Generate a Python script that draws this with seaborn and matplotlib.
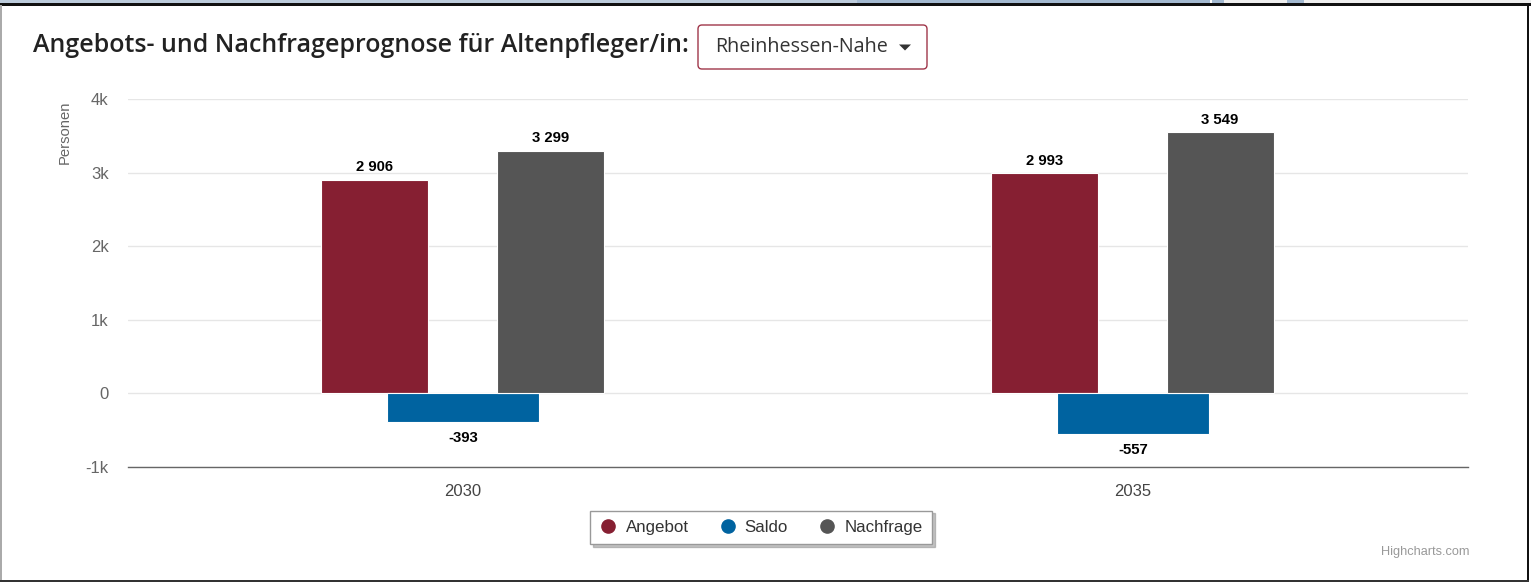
import numpy as np
import pandas as pd
import matplotlib
matplotlib.use("Agg")
import matplotlib.pyplot as plt
import seaborn as sns
from matplotlib.patches import FancyBboxPatch, Rectangle, Polygon
from matplotlib.lines import Line2D
from matplotlib.ticker import FuncFormatter

# ---- data ----
years = ["2030", "2035"]
series = ["Angebot", "Saldo", "Nachfrage"]
angebot = [2906, 2993]
saldo = [-393, -557]
nachfrage = [3299, 3549]
colors = ["#861f32", "#0063a0", "#555555"]
y_ticks = [-1000, 0, 1000, 2000, 3000, 4000]
title = "Angebots- und Nachfrageprognose für Altenpfleger/in:"
region = "Rheinhessen-Nahe"
y_title = "Personen"

df = pd.DataFrame({
    "Jahr": years * 3,
    "Serie": np.repeat(series, len(years)),
    "Wert": angebot + saldo + nachfrage,
})

sns.set_theme(style="white")
plt.rcParams["font.family"] = ["Liberation Sans", "DejaVu Sans"]

W, H = 1531, 582
fig = plt.figure(figsize=(W / 100, H / 100), dpi=100)
fig.patch.set_facecolor("white")

# background / decoration axes in pixel coordinates
bg = fig.add_axes([0, 0, 1, 1], zorder=0)
bg.set_xlim(0, W)
bg.set_ylim(H, 0)
bg.axis("off")

# top strip (page behind)
for x0, x1, c in [(0, 857, "#bccbdb"), (857, 1210, "#a3b9d0"), (1210, 1212, "#ffffff"),
                  (1212, 1224, "#a3b9d0"), (1224, 1287, "#eeeeee"), (1287, 1304, "#a3b9d0"),
                  (1304, W, "#eeeeee")]:
    bg.add_patch(Rectangle((x0, 0), x1 - x0, 3.2, fc=c, ec="none"))
bg.add_patch(Rectangle((0, 3), W, 2.5, fc="#111111", ec="none"))
bg.add_patch(Rectangle((1526.5, 3), 2.5, 579, fc="#111111", ec="none"))
bg.add_patch(Rectangle((0, 579.5), 1529, 2.5, fc="#333333", ec="none"))
bg.add_patch(Rectangle((0, 5), 1.5, 575, fc="#aaaaaa", ec="none"))

# title and dropdown
bg.text(33, 46, title, fontsize=18, family=["Open Sans", "DejaVu Sans"], fontweight="semibold",
        color="#222222", ha="left", va="center")
bg.add_patch(FancyBboxPatch((698, 25), 229, 44, boxstyle="round,pad=0,rounding_size=4",
                            fc="white", ec="#a0364a", lw=1))
bg.text(715, 47, region, fontsize=14.2, family=["Open Sans", "DejaVu Sans"], color="#333333",
        ha="left", va="center")
bg.add_patch(Polygon([(899, 44.5), (911, 44.5), (905, 50.5)], closed=True, fc="#333333", ec="none"))

# y title and credits
bg.text(65, 100, y_title, rotation=90, ha="center", va="top", fontsize=10.7, color="#666666")
bg.text(1469, 552, "Highcharts.com", ha="right", va="center", fontsize=9.2, color="#999999")

# main chart
ax = fig.add_axes([128 / W, 1 - 467 / H, 1340 / W, 368 / H], zorder=1)
ax.set_facecolor("none")
sns.barplot(data=df, x="Jahr", y="Wert", hue="Serie", hue_order=series, order=years,
            palette=colors, width=0.8, dodge=True, saturation=1, errorbar=None,
            legend=False, edgecolor="white", linewidth=0.8, ax=ax)

offsets = {"Angebot": -0.132, "Saldo": 0.0, "Nachfrage": 0.13}
widths = {"Angebot": 0.16, "Saldo": 0.226, "Nachfrage": 0.16}
for name, cont in zip(series, ax.containers):
    for bar in cont:
        c = round(bar.get_x() + bar.get_width() / 2)
        w = widths[name]
        bar.set_x(c + offsets[name] - w / 2)
        bar.set_width(w)
    labels = [f"{int(round(v)):,}".replace(",", " ") for v in cont.datavalues]
    pad = 6 if min(cont.datavalues) < 0 else 4
    ax.bar_label(cont, labels=labels, padding=pad, fontsize=10.7, fontweight="bold", color="black")

ax.set_xlim(-0.5, 1.5)
ax.set_ylim(-1000, 4000)
ax.set_yticks(y_ticks)
ax.yaxis.set_major_formatter(FuncFormatter(lambda v, p: "0" if v == 0 else f"{v / 1000:g}k"))
ax.yaxis.grid(True, color="#e6e6e6", lw=1)
ax.set_axisbelow(True)
for s in ["top", "left", "right"]:
    ax.spines[s].set_visible(False)
ax.spines["bottom"].set_color("#666666")
ax.spines["bottom"].set_linewidth(1)
ax.tick_params(axis="y", length=0, pad=14, labelsize=12, labelcolor="#666666")
ax.tick_params(axis="x", length=0, pad=12, labelsize=12, labelcolor="#444444")
ax.set_xlabel("")
ax.set_ylabel("")

# legend
handles = [Line2D([], [], marker="o", ls="", markersize=9.5, markerfacecolor=c, markeredgecolor=c)
           for c in colors]
fig.legend(handles, series, loc="center", bbox_to_anchor=(761 / W, 1 - 527.5 / H), ncol=3,
           frameon=True, fancybox=False, fontsize=12.2, labelcolor="#333333",
           handlelength=1.07, handletextpad=0.47, columnspacing=1.78, borderpad=0.55,
           edgecolor="#999999",
           shadow={"color": "#888888", "alpha": 0.5, "ox": 2, "oy": -2})

fig.savefig("out.png", dpi=100)
